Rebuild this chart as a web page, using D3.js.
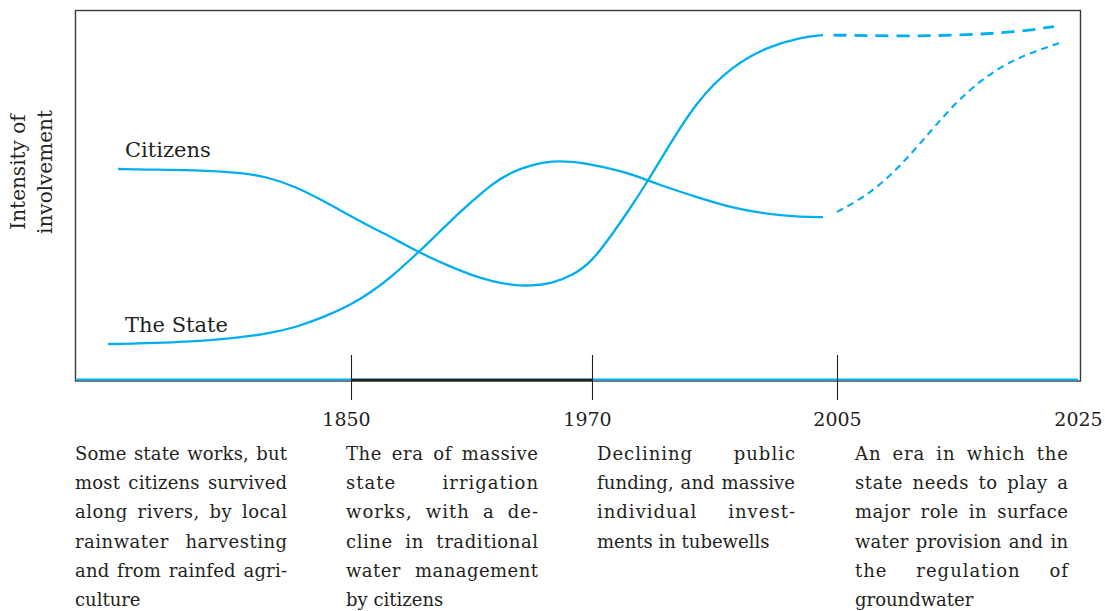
<!DOCTYPE html>
<html>
<head>
<meta charset="utf-8">
<script src="https://cdn.jsdelivr.net/npm/d3@7"></script>
<style>
  body { margin: 0; background: #fff; }
  svg { display: block; font-family: "DejaVu Serif", serif; }
</style>
</head>
<body>
<svg id="canvas" width="1105" height="611"></svg>
<script>
// Data (intensity 0-100, years on a stretched time axis)

let citizensYears = [1765.6, 1780, 1790, 1800, 1810, 1820, 1830, 1840, 1850, 1860, 1870, 1880, 1890, 1900, 1910, 1920, 1930, 1940, 1950, 1960, 1970, 1973, 1975, 1978, 1980, 1985, 1990, 1995, 2000, 2003];
let citizensValues = [57.3, 57.1, 57.0, 56.8, 56.3, 55.1, 52.5, 48.7, 44.5, 41.6, 38.9, 35.9, 33.2, 30.8, 28.6, 27.0, 25.9, 25.7, 26.4, 28.4, 32.2, 40.0, 45.4, 54.1, 60.5, 75.9, 85.1, 90.3, 93.0, 93.5];

let citizensFutureYears = [2004.5, 2010, 2015, 2020, 2023];
let citizensFutureValues = [93.5, 93.2, 93.4, 94.3, 95.8];

let stateYears = [1762, 1766, 1780, 1790, 1800, 1810, 1820, 1830, 1840, 1850, 1860, 1870, 1880, 1890, 1900, 1910, 1920, 1930, 1940, 1950, 1960, 1970, 1975, 1980, 1985, 1990, 1995, 2000, 2003];
let stateValues = [10.0, 10.0, 10.3, 10.6, 11.1, 11.8, 12.8, 14.5, 17.2, 20.6, 24.0, 28.1, 33.0, 38.1, 43.5, 48.4, 53.2, 56.5, 58.4, 59.5, 59.3, 58.5, 56.5, 52.7, 49.7, 46.8, 45.1, 44.3, 44.3];

let stateFutureYears = [2005, 2007, 2009, 2011, 2013, 2015, 2017, 2019, 2021, 2023.5];
let stateFutureValues = [45.7, 49.2, 54.1, 60.8, 68.4, 75.7, 81.4, 85.7, 88.6, 91.4];

let periodYears = [1850, 1970, 2005, 2025];
let tickedYears = [1850, 1970, 2005];
let stateEra = [1850, 1970];

let seriesLabels = ["Citizens", "The State"];
let yTitle = ["Intensity of", "involvement"];

let eraNotes = [
  ["Some state works, but", "most citizens survived", "along rivers, by local", "rainwater harvesting", "and from rainfed agri-", "culture"],
  ["The era of massive", "state irrigation", "works, with a de-", "cline in traditional", "water management", "by citizens"],
  ["Declining public", "funding, and massive", "individual invest-", "ments in tubewells"],
  ["An era in which the", "state needs to play a", "major role in surface", "water provision and in", "the regulation of", "groundwater"]
];

// Layout

let blue = "#00aeef";
let ink = "#231f20";
let frame = { left: 75.5, top: 10.5, right: 1080.5, bottom: 381 };
let noteColumns = [[75, 287], [346, 538], [597, 795], [855, 1068]];

let canvas = d3.select("#canvas");

let x = d3.scaleLinear()
  .domain([1750, 1850, 1970, 2005, 2025])
  .range([75, 351, 592, 837, 1078]);

let y = d3.scaleLinear()
  .domain([0, 100])
  .range([381, 11]);

let line = d3.line()
  .x((d) => x(d[0]))
  .y((d) => y(d[1]))
  .curve(d3.curveBasis);

// Frame

canvas.append("rect")
  .attr("x", frame.left)
  .attr("y", frame.top)
  .attr("width", frame.right - frame.left)
  .attr("height", frame.bottom - frame.top)
  .attr("fill", "none")
  .attr("stroke", "#3a3a3a")
  .attr("stroke-width", 1.4);

// Blue time line along the bottom, black over the state irrigation era

canvas.append("line")
  .attr("x1", frame.left + 1).attr("x2", x(2025))
  .attr("y1", 379.5).attr("y2", 379.5)
  .attr("stroke", blue)
  .attr("stroke-width", 1.8);

canvas.append("line")
  .attr("x1", x(stateEra[0])).attr("x2", x(stateEra[1]))
  .attr("y1", 380).attr("y2", 380)
  .attr("stroke", "#222")
  .attr("stroke-width", 2.6);

// Axis with the period ticks

let axis = canvas.append("g")
  .attr("transform", "translate(0,380)")
  .call(d3.axisBottom(x).tickValues(periodYears).tickFormat(d3.format("d")).tickSizeOuter(0));

axis.select(".domain").remove();
axis.selectAll(".tick line")
  .attr("y1", -25)
  .attr("y2", 20)
  .attr("stroke", "#222")
  .attr("stroke-width", 1.1)
  .style("display", (d) => tickedYears.includes(d) ? null : "none");
axis.selectAll(".tick text")
  .attr("y", 46)
  .attr("dy", 0)
  .attr("dx", (d) => d < 2000 ? -5 : 0)
  .attr("fill", ink)
  .style("font-family", "DejaVu Serif, serif")
  .style("font-size", "19px");

// Curves

let zip = (xs, ys) => xs.map((d, i) => [d, ys[i]]);

canvas.append("path")
  .datum(zip(citizensYears, citizensValues))
  .attr("d", line)
  .attr("fill", "none")
  .attr("stroke", blue)
  .attr("stroke-width", 2.3);

canvas.append("path")
  .datum(zip(stateYears, stateValues))
  .attr("d", line)
  .attr("fill", "none")
  .attr("stroke", blue)
  .attr("stroke-width", 2.3);

canvas.append("path")
  .datum(zip(citizensFutureYears, citizensFutureValues))
  .attr("d", line)
  .attr("fill", "none")
  .attr("stroke", blue)
  .attr("stroke-width", 2.8)
  .attr("stroke-dasharray", "13 8");

canvas.append("path")
  .datum(zip(stateFutureYears, stateFutureValues))
  .attr("d", line)
  .attr("fill", "none")
  .attr("stroke", blue)
  .attr("stroke-width", 2.1)
  .attr("stroke-dasharray", "7 5");

// Series labels

canvas.append("text")
  .attr("x", 125).attr("y", 157)
  .attr("fill", ink)
  .style("font-size", "21px")
  .text(seriesLabels[0]);

canvas.append("text")
  .attr("x", 125).attr("y", 332)
  .attr("fill", ink)
  .style("font-size", "21px")
  .text(seriesLabels[1]);

// Y title, rotated

let title = canvas.append("text")
  .attr("transform", "translate(25,172) rotate(-90)")
  .attr("text-anchor", "middle")
  .attr("fill", ink)
  .style("font-size", "20px");

title.selectAll("tspan")
  .data(yTitle)
  .enter()
  .append("tspan")
  .attr("x", 0)
  .attr("y", (d, i) => i * 27)
  .text((d) => d);

// Era notes, justified line by line (letter spacing first, then word spacing)

eraNotes.forEach((lines, col) => {
  let left = noteColumns[col][0];
  let width = noteColumns[col][1] - left;
  lines.forEach((txt, i) => {
    let t = canvas.append("text")
      .attr("x", left)
      .attr("y", 460 + i * 29.2)
      .attr("fill", ink)
      .style("font-size", "18px")
      .text(txt);
    let gaps = txt.split(" ").length - 1;
    if (i < lines.length - 1 && gaps > 0) {
      let natural = t.node().getComputedTextLength();
      let extra = width - natural;
      let ls = Math.max(0, Math.min(1.0, (extra * 0.5) / txt.length));
      t.style("letter-spacing", ls + "px");
      let spaced = t.node().getComputedTextLength() - ls;
      t.style("word-spacing", (width - spaced) / gaps + "px");
    }
  });
});
</script>
</body>
</html>
